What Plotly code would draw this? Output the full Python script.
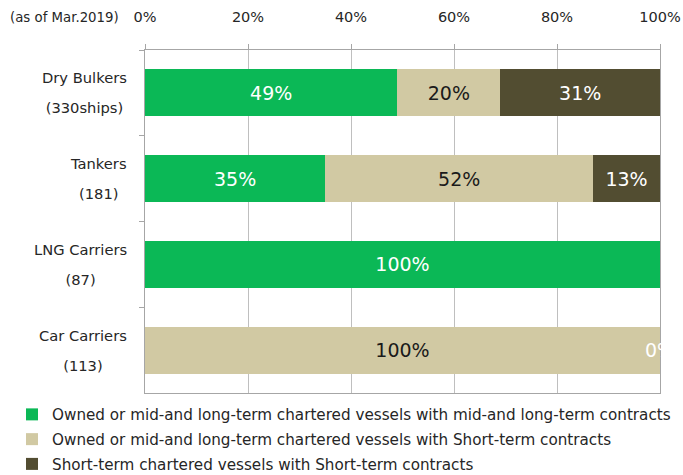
import plotly.graph_objects as go

# Fleet breakdown by contract type, shares in percent
categories = ["Dry Bulkers", "Tankers", "LNG Carriers", "Car Carriers"]
counts = ["(330ships)", "(181)", "(87)", "(113)"]
series_names = [
    "Owned or mid-and long-term chartered vessels with mid-and long-term contracts",
    "Owned or mid-and long-term chartered vessels with Short-term contracts",
    "Short-term chartered vessels with Short-term contracts",
]
long_term = [49, 35, 100, 0]
owned_short = [20, 52, 0, 100]
chartered_short = [31, 13, 0, 0]
tick_vals = [0, 20, 40, 60, 80, 100]
tick_labels = ["0%", "20%", "40%", "60%", "80%", "100%"]

colors = ["#0BB856", "#D1C9A3", "#524D31"]
label_colors = ["white", "#1a1a1a", "white"]
FONT = "DejaVu Sans"

W, H = 683, 475
ML, MR, MT, MB = 145, 23, 50, 82
PW, PH = W - ML - MR, H - MT - MB

fig = go.Figure()
for i, (name, vals) in enumerate(zip(series_names, [long_term, owned_short, chartered_short])):
    fig.add_trace(go.Bar(
        y=categories, x=vals, name=name, orientation="h",
        marker=dict(color=colors[i], line=dict(width=0)),
        text=[f"{v}%" if v > 0 else "" for v in vals],
        textposition="inside", insidetextanchor="middle", textangle=0,
        textfont=dict(family=FONT, size=19, color=label_colors[i]),
        legendgroup=f"g{i}",
        hoverinfo="skip",
    ))

# zero-share label sitting at the end of the Car Carriers bar
totals = [a + b + c for a, b, c in zip(long_term, owned_short, chartered_short)]
for cat, v, t in zip(categories, chartered_short, totals):
    if cat == "Car Carriers":
        fig.add_annotation(x=t, y=cat, xref="x", yref="y", text=f"{v}%",
                           showarrow=False, xanchor="center",
                           font=dict(family=FONT, size=19, color="white"))

# two-line category labels
for cat, cnt in zip(categories, counts):
    fig.add_annotation(
        x=0, y=cat, xref="paper", yref="y", xanchor="right", yanchor="middle",
        xshift=-16, align="center", showarrow=False,
        text=f"<span style='font-size:14.7px'>{cat}</span><br><br>"
             f"<span style='font-size:14.7px'>{cnt}</span>",
        font=dict(family=FONT, size=11.5, color="#262626"),
    )

fig.add_annotation(
    x=(8 - ML) / PW, y=(H - MB - 17) / PH, xref="paper", yref="paper",
    xanchor="left", yanchor="middle", showarrow=False,
    text="(as of Mar.2019)", font=dict(family=FONT, size=13.3, color="#262626"),
)

fig.update_layout(
    width=W, height=H,
    margin=dict(l=ML, r=MR, t=MT, b=MB, autoexpand=False),
    barmode="stack", bargap=0.45,
    paper_bgcolor="white", plot_bgcolor="white",
    font=dict(family=FONT, color="#262626"),
    showlegend=True,
    legend=dict(
        xref="container", yref="container", x=12 / W, y=1 - 398 / H,
        xanchor="left", yanchor="top", traceorder="grouped", tracegroupgap=2,
        font=dict(family=FONT, size=15.2, color="#262626"),
        itemclick=False,
    ),
    xaxis=dict(
        side="top", range=[0, 100], tickvals=tick_vals, ticktext=tick_labels,
        tickfont=dict(family=FONT, size=14.5, color="#262626"),
        showgrid=True, gridcolor="#BFBFBF", gridwidth=1,
        showline=True, linecolor="#A6A6A6", linewidth=1, mirror=True,
        ticks="outside", ticklen=5, tickcolor="#A6A6A6", ticklabelstandoff=16,
        zeroline=False, fixedrange=True,
    ),
    yaxis=dict(
        autorange="reversed", showticklabels=False,
        showline=True, linecolor="#A6A6A6", linewidth=1, mirror=True,
        ticks="outside", ticklen=5, tickcolor="#A6A6A6", tickson="boundaries",
        showgrid=False, fixedrange=True,
    ),
)

fig.write_html("out.html")
